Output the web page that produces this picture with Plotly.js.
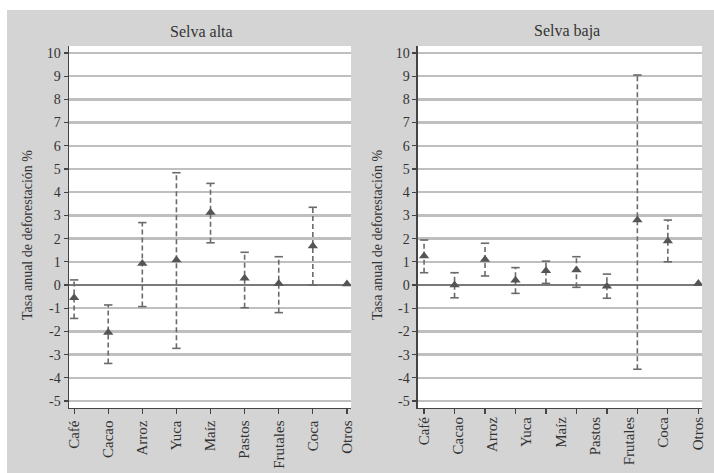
<!DOCTYPE html>
<html><head><meta charset="utf-8">
<script src="https://cdn.plot.ly/plotly-3.0.1.min.js"></script>
<style>html,body{margin:0;padding:0;background:#fff;} #chart{position:absolute;left:7px;top:10px;width:707px;height:463px;}</style>
</head><body><div id="chart"></div>
<script>
const categories = ['Café','Cacao','Arroz','Yuca','Maíz','Pastos','Frutales','Coca','Otros'];
// Selva alta
const altaValue = [-0.55, -2.05, 0.93, 1.08, 3.12, 0.29, 0.07, 1.68, 0.04];
const altaUpper = [0.22, -0.86, 2.69, 4.84, 4.38, 1.41, 1.22, 3.35, null];
const altaLower = [-1.44, -3.38, -0.93, -2.73, 1.82, -0.98, -1.19, 0.0, null];
// Selva baja (10 estimates drawn, 9 labels shown as in the original)
const bajaValue = [1.25, 0.0, 1.1, 0.2, 0.62, 0.65, -0.05, 2.8, 1.9, 0.07];
const bajaUpper = [1.94, 0.53, 1.8, 0.75, 1.03, 1.22, 0.47, 9.05, 2.8, null];
const bajaLower = [0.53, -0.55, 0.39, -0.36, 0.07, -0.1, -0.57, -3.63, 1.0, null];
const yTicks = [-5,-4,-3,-2,-1,0,1,2,3,4,5,6,7,8,9,10];
const yTickText = ['-5','-4','-3','-2','-1','0','1','2','3','4','5','6','7','8','9','10'];
const panelTitles = ['Selva alta', 'Selva baja'];
const yTitle = 'Tasa anual de deforestación %';

const FONT = 'Liberation Serif, DejaVu Serif, serif';
const MARK = '#555555';
const ERR = '#6a6a6a';

function errTraces(xs, lo, hi, xa, ya) {
  const lx = [], ly = [], cx = [], cy = [];
  xs.forEach((x, i) => {
    if (hi[i] === null || lo[i] === null) return;
    lx.push(x, x, null); ly.push(lo[i], hi[i], null);
    cx.push(x, x); cy.push(lo[i], hi[i]);
  });
  return [
    {x: lx, y: ly, xaxis: xa, yaxis: ya, mode: 'lines', type: 'scatter', hoverinfo: 'skip',
     line: {color: ERR, width: 1.6, dash: '5px,3px'}, showlegend: false, connectgaps: false},
    {x: cx, y: cy, xaxis: xa, yaxis: ya, mode: 'markers', type: 'scatter', hoverinfo: 'skip',
     marker: {symbol: 'line-ew-open', size: 6, color: ERR, line: {color: ERR, width: 1.6}}, showlegend: false}
  ];
}

const bajaIdx = bajaValue.map((_, i) => i);
const labelIdx = categories.map((_, i) => i);

const traces = [
  ...errTraces(categories, altaLower, altaUpper, 'x', 'y'),
  {x: categories, y: altaValue, xaxis: 'x', yaxis: 'y', mode: 'markers', type: 'scatter',
   marker: {symbol: 'triangle-up', size: 9, color: MARK}, showlegend: false},
  ...errTraces(bajaIdx, bajaLower, bajaUpper, 'x2', 'y2'),
  {x: bajaIdx, y: bajaValue, xaxis: 'x2', yaxis: 'y2', mode: 'markers', type: 'scatter',
   marker: {symbol: 'triangle-up', size: 9, color: MARK}, showlegend: false},
  // invisible carrier so the label axis of the right panel is drawn
  {x: labelIdx, y: labelIdx.map(() => 0), xaxis: 'x3', yaxis: 'y2', mode: 'markers', type: 'scatter',
   marker: {size: 1, opacity: 0}, hoverinfo: 'skip', showlegend: false}
];

const yAxisBase = {
  type: 'linear', range: [-5.3, 10.3], tickmode: 'array', tickvals: yTicks, ticktext: yTickText,
  showgrid: true, gridcolor: '#bfbfbf', gridwidth: 2.5,
  zeroline: true, zerolinecolor: '#7a7a7a', zerolinewidth: 2,
  showline: true, linecolor: '#444', linewidth: 1.5,
  ticks: 'outside', ticklen: 4, tickcolor: '#444', tickwidth: 1.2,
  tickfont: {family: FONT, size: 14, color: '#333'},
  domain: [0.1404, 0.9222], fixedrange: true
};
const xAxisBase = {
  showgrid: false, zeroline: false, showline: true, linecolor: '#444', linewidth: 1.5,
  ticks: 'outside', ticklen: 5, tickcolor: '#444', tickwidth: 1.2,
  tickangle: -90, tickfont: {family: FONT, size: 15, color: '#333'}, fixedrange: true
};

const layout = {
  width: 707, height: 463,
  margin: {l: 0, r: 0, t: 0, b: 0},
  paper_bgcolor: '#d4d4d4', plot_bgcolor: '#ffffff',
  showlegend: false,
  xaxis: Object.assign({}, xAxisBase, {type: 'category', categoryarray: categories, categoryorder: 'array',
    range: [-0.15, 8.12], domain: [0.0877, 0.4866], anchor: 'y'}),
  yaxis: Object.assign({}, yAxisBase, {anchor: 'x'}),
  xaxis2: Object.assign({}, xAxisBase, {type: 'linear', range: [-0.2, 9.12], domain: [0.5813, 0.9830],
    anchor: 'y2', tickmode: 'array', tickvals: bajaIdx, showticklabels: false}),
  yaxis2: Object.assign({}, yAxisBase, {anchor: 'x2'}),
  xaxis3: Object.assign({}, xAxisBase, {type: 'linear', overlaying: 'x2', anchor: 'y2', range: [-0.17, 8.12],
    tickmode: 'array', tickvals: labelIdx, ticktext: categories,
    ticks: '', showline: false, showticklabels: true, ticklabelstandoff: 5}),
  annotations: [
    {text: panelTitles[0], xref: 'paper', yref: 'paper', x: 0.2744, y: 0.9546, showarrow: false,
     xanchor: 'center', yanchor: 'middle', font: {family: FONT, size: 16, color: '#333'}},
    {text: panelTitles[1], xref: 'paper', yref: 'paper', x: 0.792, y: 0.9546, showarrow: false,
     xanchor: 'center', yanchor: 'middle', font: {family: FONT, size: 16, color: '#333'}},
    {text: yTitle, xref: 'paper', yref: 'paper', x: 0.0283, y: 0.514, showarrow: false, textangle: -90,
     xanchor: 'center', yanchor: 'middle', font: {family: FONT, size: 14, color: '#333'}},
    {text: yTitle, xref: 'paper', yref: 'paper', x: 0.5233, y: 0.514, showarrow: false, textangle: -90,
     xanchor: 'center', yanchor: 'middle', font: {family: FONT, size: 14, color: '#333'}}
  ]
};

Plotly.newPlot('chart', traces, layout, {staticPlot: true, displayModeBar: false});
</script>
</body></html>
